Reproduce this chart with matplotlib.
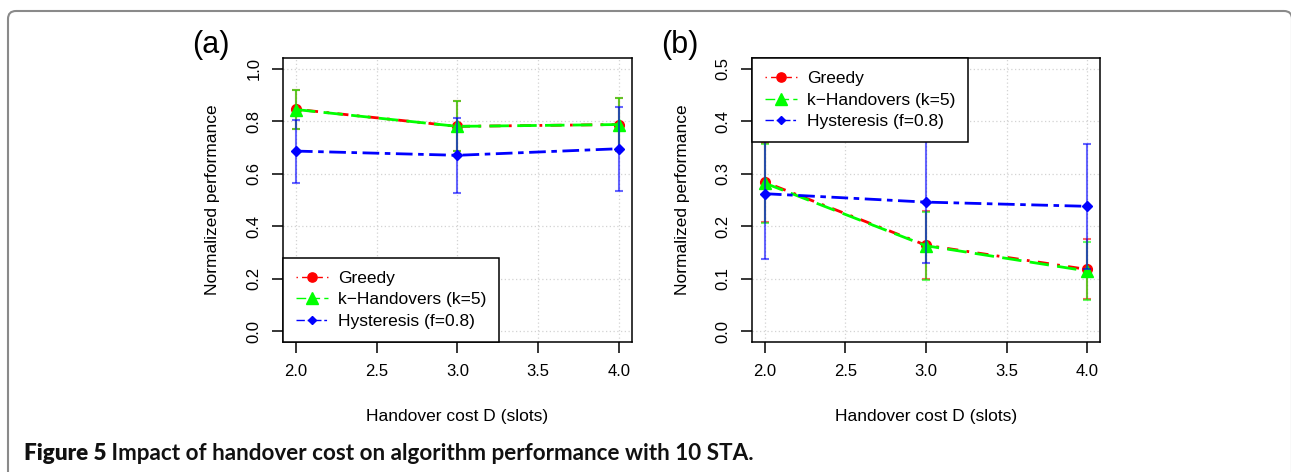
import matplotlib
matplotlib.use("Agg")
import matplotlib.pyplot as plt
from matplotlib.lines import Line2D
from matplotlib.patches import FancyBboxPatch
from matplotlib.transforms import IdentityTransform

# ---------------- data ----------------
handover_cost = [2.0, 3.0, 4.0]
x_ticks = [2.0, 2.5, 3.0, 3.5, 4.0]
x_tick_labels = ["2.0", "2.5", "3.0", "3.5", "4.0"]

# panel (a)
greedy_a = [0.845, 0.780, 0.787]
greedy_a_sd = [0.074, 0.095, 0.099]
khand_a = [0.844, 0.780, 0.787]
khand_a_sd = [0.074, 0.095, 0.099]
hyst_a = [0.686, 0.670, 0.695]
hyst_a_sd = [0.120, 0.142, 0.160]
yticks_a = [0.0, 0.2, 0.4, 0.6, 0.8, 1.0]

# panel (b)
greedy_b = [0.284, 0.164, 0.118]
greedy_b_sd = [0.075, 0.065, 0.057]
khand_b = [0.282, 0.163, 0.115]
khand_b_sd = [0.075, 0.065, 0.055]
hyst_b = [0.262, 0.246, 0.238]
hyst_b_sd = [0.124, 0.116, 0.119]
yticks_b = [0.0, 0.1, 0.2, 0.3, 0.4, 0.5]

series_names = ["Greedy", "k\u2212Handovers (k=5)", "Hysteresis (f=0.8)"]
caption_bold = "Figure 5"
caption_rest = " Impact of handover cost on algorithm performance with 10 STA."

# ---------------- style ----------------
plt.rcParams["font.family"] = ["Liberation Sans", "DejaVu Sans"]
W, H = 1291, 472
fig = plt.figure(figsize=(W / 100, H / 100), dpi=100)

colors = ["#FF0000", "#00FF00", "#0000FF"]
markers = ["o", "^", "D"]
msizes = [7, 8.5, 4.8]
dashes = [(0, (1, 3, 4, 3)), (0, (7, 3)), (0, (6, 2, 2, 2))]


def px_axes(left, top, right, bottom):
    return [left / W, (H - bottom) / H, (right - left) / W, (bottom - top) / H]


def draw_panel(ax, means, sds, yticks, ylim, legend_loc):
    for i, (m, s) in enumerate(zip(means, sds)):
        ax.plot(handover_cost, m, color=colors[i], linestyle=dashes[i], lw=2,
                marker=markers[i], ms=msizes[i], zorder=3 + i)
        ax.errorbar(handover_cost, m, yerr=s, fmt="none", ecolor=colors[i],
                    alpha=0.6, elinewidth=1.5, capsize=2.6, capthick=1.5,
                    zorder=3 + i)
    ax.set_xlim(1.92, 4.08)
    ax.set_ylim(*ylim)
    ax.set_xticks(x_ticks)
    ax.set_xticklabels(x_tick_labels)
    ax.set_yticks(yticks)
    ax.set_yticklabels(["%.1f" % v for v in yticks], rotation=90, va="center")
    ax.grid(True, linestyle=(0, (1, 2)), color="#d3d3d3", lw=0.9)
    ax.set_axisbelow(True)
    for sp in ax.spines.values():
        sp.set_linewidth(1.1)
    ax.tick_params(direction="out", length=8, width=1.1, labelsize=12)
    ax.tick_params(axis="x", pad=8)
    ax.tick_params(axis="y", pad=7.5)
    handles = [Line2D([], [], color=colors[i], linestyle=dashes[i], lw=1,
                      marker=markers[i], ms=msizes[i] * 0.95) for i in range(3)]
    leg = ax.legend(handles, series_names, loc=legend_loc, borderaxespad=0,
                    fontsize=12.5, fancybox=False, edgecolor="black",
                    framealpha=1, borderpad=0.75, labelspacing=0.37,
                    handlelength=1.85, handletextpad=0.57)
    leg.get_frame().set_linewidth(1.1)
    leg.set_zorder(10)


ax_a = fig.add_axes(px_axes(283, 58, 632, 342))
draw_panel(ax_a, [greedy_a, khand_a, hyst_a], [greedy_a_sd, khand_a_sd, hyst_a_sd],
           yticks_a, (-0.04, 1.04), "lower left")
ax_b = fig.add_axes(px_axes(752, 58, 1100, 342))
draw_panel(ax_b, [greedy_b, khand_b, hyst_b], [greedy_b_sd, khand_b_sd, hyst_b_sd],
           yticks_b, (-0.02, 0.52), "upper left")

# axis titles and panel tags
for cx in [457.5, 926]:
    fig.text(cx / W, (H - 417) / H, "Handover cost D (slots)", ha="center",
             va="center", fontsize=12.5)
for yl in [213, 682]:
    fig.text(yl / W, (H - 200) / H, "Normalized performance", rotation=90,
             ha="center", va="center", fontsize=12.5)
fig.text(211 / W, (H - 45) / H, "(a)", ha="center", va="center", fontsize=22)
fig.text(680 / W, (H - 45) / H, "(b)", ha="center", va="center", fontsize=22)

# border (rounded top-left)
border = FancyBboxPatch((8, -40), 1284, (H - 11) + 40,
                        boxstyle="round,pad=0,rounding_size=8",
                        transform=IdentityTransform(), fill=False,
                        edgecolor="#8a8a8a", lw=1.5)
fig.add_artist(border)

# caption
cap_fam = ["Lato", "DejaVu Sans"]
t1 = fig.text(24 / W, (H - 460) / H, caption_bold, fontsize=12, weight="heavy",
              family=cap_fam, va="baseline", color="#111111")
t2 = fig.text(0, (H - 460) / H, caption_rest, fontsize=12, weight="bold",
              family=cap_fam, va="baseline", color="#111111")
fig.canvas.draw()
r = fig.canvas.get_renderer()
w1 = t1.get_window_extent(r).width
w2 = t2.get_window_extent(r).width
scale = 729.0 / (w1 + w2)
t1.set_fontsize(12 * scale)
t2.set_fontsize(12 * scale)
fig.canvas.draw()
w1 = t1.get_window_extent(r).width
t2.set_x((24 + w1) / W)

fig.savefig("out.png", dpi=100)
